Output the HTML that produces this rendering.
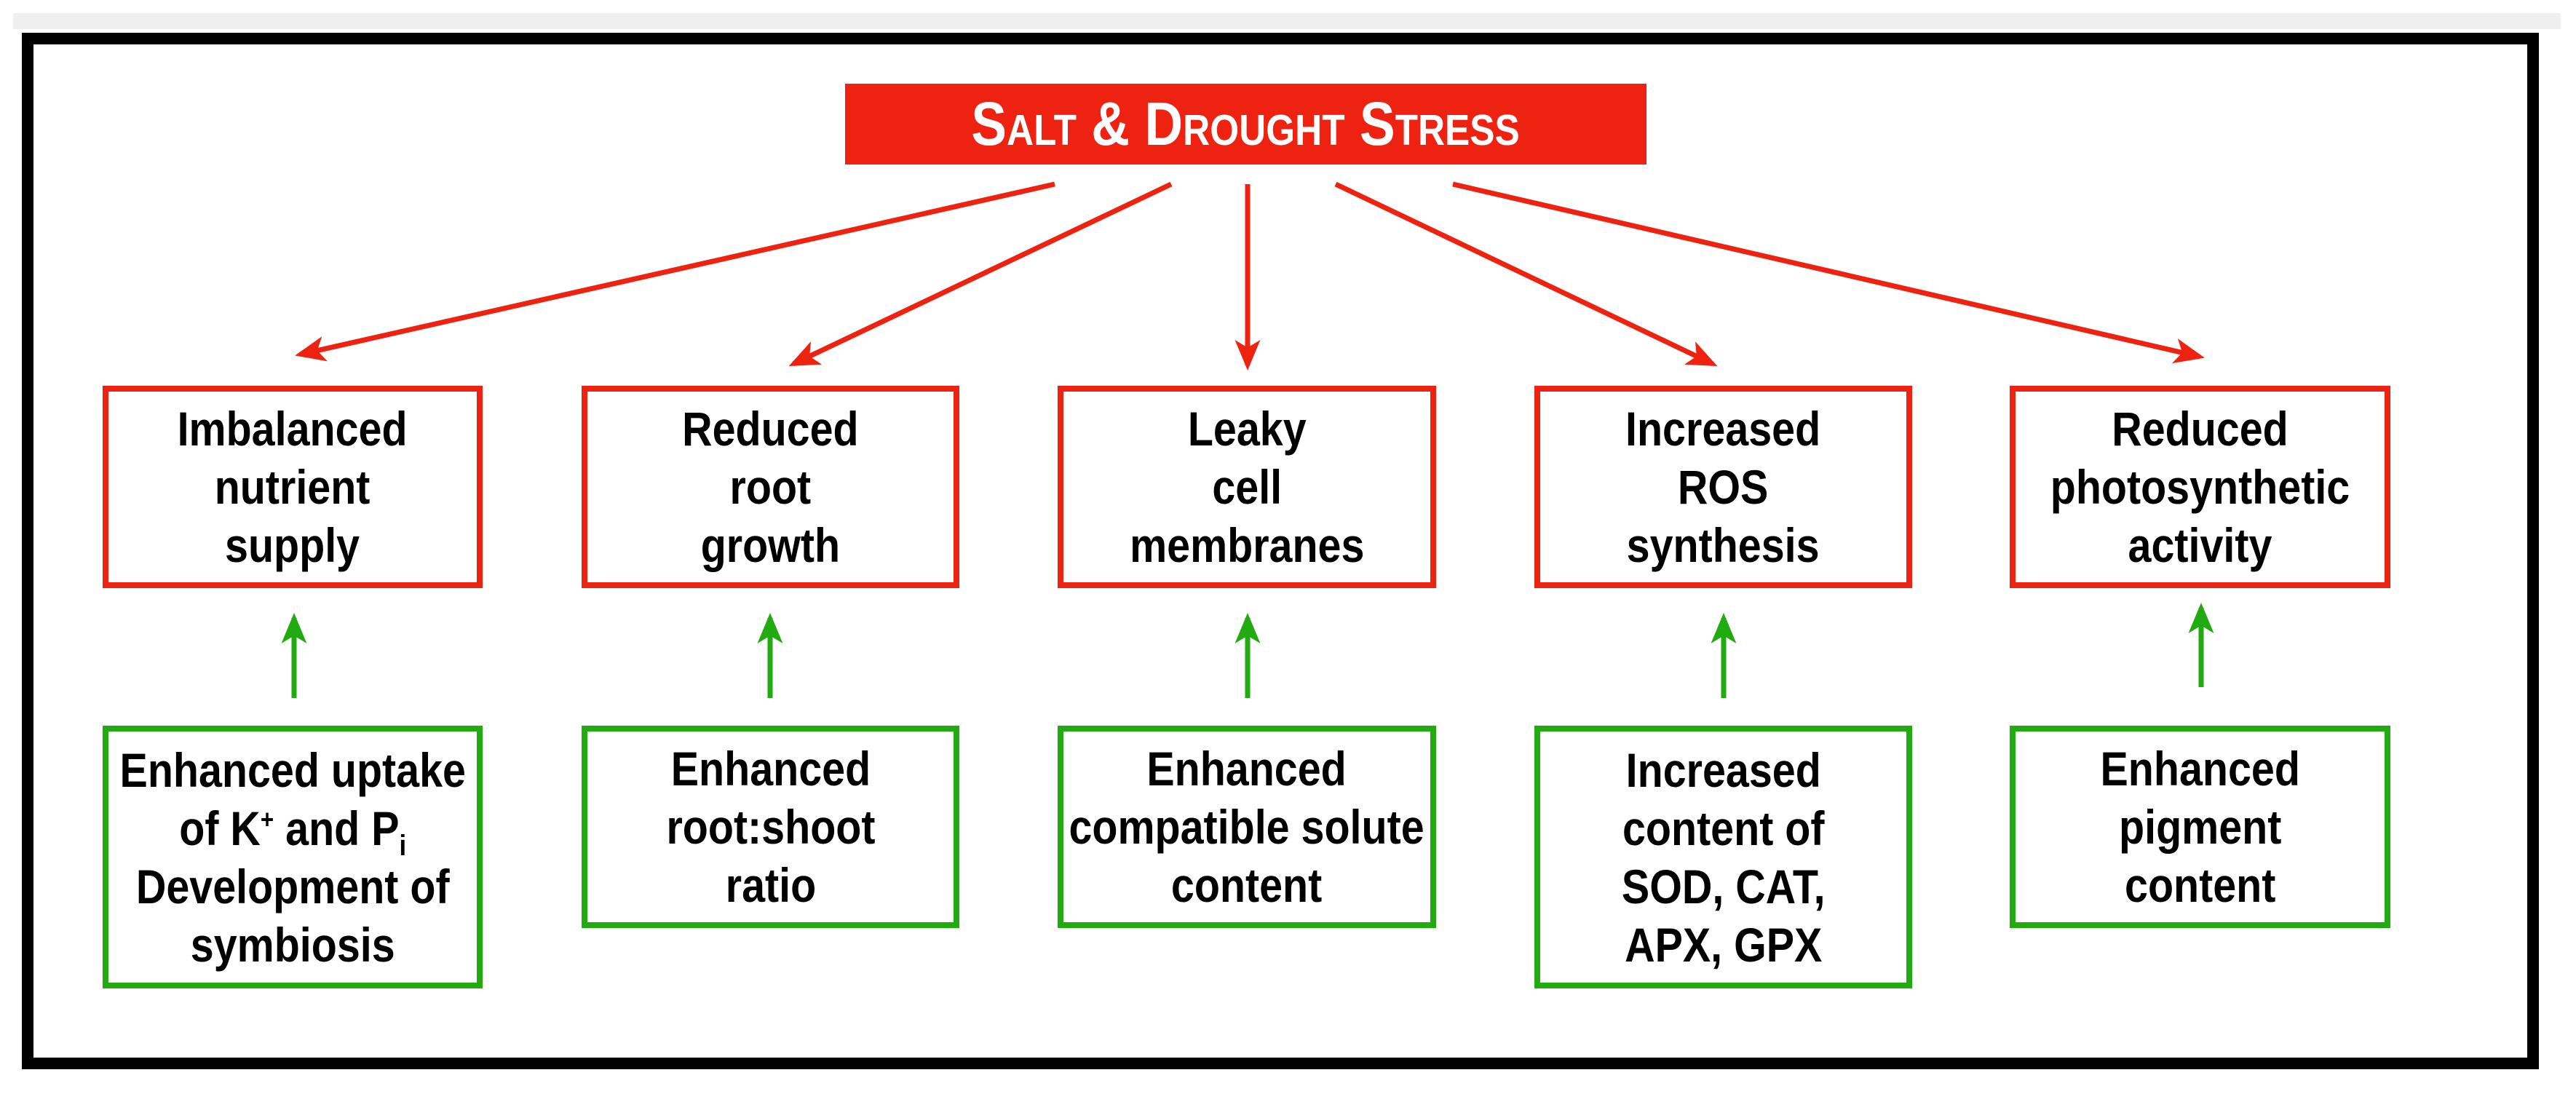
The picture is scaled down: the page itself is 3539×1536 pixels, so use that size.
<!DOCTYPE html>
<html><head><meta charset="utf-8"><style>
body{margin:0;width:3539px;height:1536px;background:#fff;position:relative;overflow:hidden;font-family:"Liberation Sans",Arial,sans-serif}
.strip{position:absolute;left:18px;top:18px;width:3500px;height:22px;background:#efefef}
.frame{position:absolute;left:30px;top:45px;width:3458px;height:1424px;border:16px solid #000;box-sizing:border-box}
.title{position:absolute;left:1161px;top:115px;width:1101px;height:111px;background:#ee2211;color:#fff;display:flex;align-items:center;justify-content:center;font-weight:bold;font-size:84px;font-variant:small-caps}
.box{position:absolute;box-sizing:border-box;border:8px solid;display:flex;align-items:center;justify-content:center;text-align:center;font-weight:bold;font-size:66px;line-height:80px;color:#000}
.r{border-color:#ee2211;top:530px;height:278px}
.g{border-color:#22aa11;top:997px;height:278px}
.t{display:inline-block;transform:scaleX(.87);white-space:nowrap}
svg{position:absolute;left:0;top:0}
</style></head><body>
<div class="strip"></div>
<div class="frame"></div>
<div class="title"><span class="t">Salt &amp; Drought Stress</span></div>

<div class="box r" style="left:141px;width:522px"><span class="t">Imbalanced<br>nutrient<br>supply</span></div>
<div class="box r" style="left:799px;width:519px"><span class="t">Reduced<br>root<br>growth</span></div>
<div class="box r" style="left:1453px;width:520px"><span class="t">Leaky<br>cell<br>membranes</span></div>
<div class="box r" style="left:2108px;width:519px"><span class="t">Increased<br>ROS<br>synthesis</span></div>
<div class="box r" style="left:2761px;width:523px"><span class="t">Reduced<br>photosynthetic<br>activity</span></div>

<div class="box g" style="left:141px;width:522px;height:361px"><span class="t">Enhanced uptake<br>of K<sup style="font-size:36px;line-height:0">+</sup> and P<sub style="font-size:40px;line-height:0">i</sub><br>Development of<br>symbiosis</span></div>
<div class="box g" style="left:799px;width:519px"><span class="t">Enhanced<br>root:shoot<br>ratio</span></div>
<div class="box g" style="left:1453px;width:520px"><span class="t">Enhanced<br>compatible solute<br>content</span></div>
<div class="box g" style="left:2108px;width:519px;height:361px"><span class="t">Increased<br>content of<br>SOD, CAT,<br>APX, GPX</span></div>
<div class="box g" style="left:2761px;width:523px"><span class="t">Enhanced<br>pigment<br>content</span></div>

<svg width="3539" height="1536" viewBox="0 0 3539 1536">
<defs>
<marker id="ar" markerWidth="6" markerHeight="6" refX="5" refY="3" orient="auto" markerUnits="strokeWidth"><path d="M0,0.5 L6,3 L0,5.5 L1.5,3 z" fill="#ee2211"/></marker>
<marker id="ag" markerWidth="6" markerHeight="6" refX="5" refY="3" orient="auto" markerUnits="strokeWidth"><path d="M0,0.5 L6,3 L0,5.5 L1.5,3 z" fill="#22aa11"/></marker>
</defs>
<g stroke="#ee2211" stroke-width="7" marker-end="url(#ar)">
<line x1="1449" y1="253" x2="412" y2="487"/>
<line x1="1609" y1="253" x2="1090" y2="500"/>
<line x1="1714" y1="253" x2="1714" y2="502"/>
<line x1="1835" y1="253" x2="2353" y2="500"/>
<line x1="1996" y1="253" x2="3022" y2="490"/>
</g>
<g stroke="#22aa11" stroke-width="7" marker-end="url(#ag)">
<line x1="404" y1="959" x2="404" y2="849"/>
<line x1="1058" y1="959" x2="1058" y2="849"/>
<line x1="1714" y1="959" x2="1714" y2="849"/>
<line x1="2368" y1="959" x2="2368" y2="849"/>
<line x1="3024" y1="944" x2="3024" y2="835"/>
</g>
</svg>
</body></html>
